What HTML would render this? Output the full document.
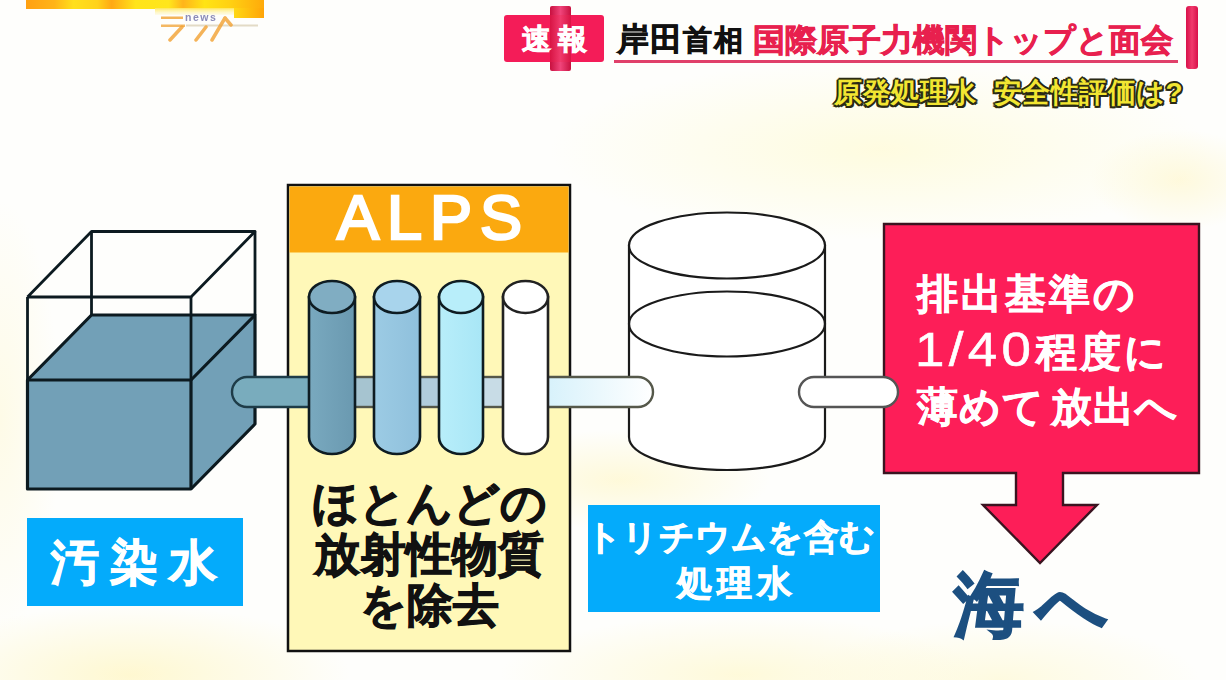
<!DOCTYPE html>
<html><head><meta charset="utf-8">
<style>
*{margin:0;padding:0;box-sizing:border-box}
html,body{width:1226px;height:680px;overflow:hidden}
body{position:relative;font-family:"Liberation Sans",sans-serif;font-weight:bold;
background:
radial-gradient(ellipse 330px 90px at 880px 150px, rgba(255,250,200,0.55), rgba(255,250,200,0) 100%),
radial-gradient(ellipse 90px 50px at 1180px 180px, rgba(255,246,200,0.6), rgba(255,246,200,0) 100%),
radial-gradient(ellipse 220px 70px at 130px 675px, rgba(255,244,180,0.6), rgba(255,244,180,0) 100%),
radial-gradient(ellipse 240px 60px at 740px 675px, rgba(255,246,190,0.55), rgba(255,246,190,0) 100%),
radial-gradient(ellipse 200px 60px at 1000px 680px, rgba(255,246,190,0.45), rgba(255,246,190,0) 100%),
radial-gradient(ellipse 150px 50px at 620px 480px, rgba(255,246,195,0.6), rgba(255,246,195,0) 100%),
radial-gradient(ellipse 60px 220px at 0px 420px, rgba(255,248,210,0.5), rgba(255,248,210,0) 100%),
#fefefc;}
.a{position:absolute;white-space:nowrap}
.sub{text-shadow:2px 0 0 #2a2a14,-2px 0 0 #2a2a14,0 2px 0 #2a2a14,0 -2px 0 #2a2a14,1.5px 1.5px 0 #2a2a14,-1.5px 1.5px 0 #2a2a14,1.5px -1.5px 0 #2a2a14,-1.5px -1.5px 0 #2a2a14}
svg{position:absolute;left:0;top:0}
</style></head><body>

<!-- logo -->
<svg width="300" height="50" viewBox="0 0 300 50" style="position:absolute;left:0;top:0;filter:blur(0.6px)">
 <defs>
  <linearGradient id="lg" x1="0" x2="1">
   <stop offset="0" stop-color="#ffa012"/><stop offset="0.12" stop-color="#ffb418"/>
   <stop offset="0.2" stop-color="#ffe01c"/><stop offset="0.3" stop-color="#ffd21a"/>
   <stop offset="0.36" stop-color="#ffa814"/><stop offset="0.46" stop-color="#ffe41a"/>
   <stop offset="0.6" stop-color="#ffe61c"/><stop offset="0.66" stop-color="#ffb41a"/>
   <stop offset="0.75" stop-color="#ffe414"/><stop offset="0.86" stop-color="#ffd012"/>
   <stop offset="1" stop-color="#ffaa0a"/>
  </linearGradient>
  <linearGradient id="lg2" x1="0" x2="1"><stop offset="0" stop-color="#ffd814"/><stop offset="1" stop-color="#ffa408"/></linearGradient>
  <linearGradient id="lg3" x1="0" y1="0" x2="0" y2="1"><stop offset="0" stop-color="#ffe860"/><stop offset="1" stop-color="#fff6c0" stop-opacity="0.3"/></linearGradient>
 </defs>
 <rect x="26" y="0" width="238" height="9" fill="url(#lg)"/>
 <rect x="155" y="8" width="80" height="7" fill="url(#lg3)"/>
 <rect x="234" y="8" width="30" height="10" fill="url(#lg2)"/>
 <rect x="161" y="16.5" width="22" height="2.5" fill="#f0a030" opacity="0.8"/>
 <text x="185" y="21" font-family="Liberation Sans" font-size="10.5" fill="#8c8cb8" letter-spacing="1.5">news</text>
 <rect x="161" y="24.5" width="24" height="2.5" fill="#f0a030" opacity="0.75"/>
 <rect x="186" y="24.5" width="72" height="2" fill="#c8b890" opacity="0.5"/>
 <g stroke="#f2a030" stroke-width="3.5" stroke-linecap="round" opacity="0.8">
  <line x1="182" y1="27" x2="170" y2="40"/>
  <line x1="206" y1="27" x2="196" y2="40"/>
  <line x1="225" y1="18" x2="212" y2="40"/>
  <line x1="225" y1="18" x2="231" y2="25"/>
 </g>
</svg>
<!-- header -->
<div class="a" style="left:550px;top:6px;width:21px;height:65px;background:linear-gradient(90deg,#c8103f,#f0447a 50%,#c8103f);border-radius:2px"></div>
<div class="a" style="left:504px;top:15px;width:100px;height:47px;background:#f41c58;border-radius:3px"></div>
<div class="a" style="left:550px;top:15px;width:21px;height:47px;background:linear-gradient(90deg,#d81444,#f03a6c 50%,#d81444)"></div>
<div class="a" style="left:522px;top:21px;font-size:29px;line-height:36px;color:#fff;letter-spacing:7px;-webkit-text-stroke:0.8px #fff">速報</div>

<div class="a" style="left:617px;top:20px;font-size:32px;line-height:38px;color:#111;letter-spacing:1px;-webkit-text-stroke:0.8px #111">岸田<span style="font-size:29px;letter-spacing:2px">首相</span></div>
<div class="a" style="left:753px;top:21px;font-size:32px;line-height:38px;color:#e8204e;-webkit-text-stroke:0.8px #e8204e">国際原子力機関トップと面会</div>
<div class="a" style="left:614px;top:60px;width:564px;height:3px;background:#e0406a"></div>
<div class="a" style="left:1186px;top:6px;width:12px;height:63px;background:linear-gradient(90deg,#d8104a,#f03a6c,#d8104a);border-radius:3px"></div>

<div class="a sub" style="left:834px;top:76.5px;font-size:28px;line-height:32px;color:#f2e632;letter-spacing:0.5px">原発処理水<span style="margin-left:17px"></span>安全性評価は?</div>

<svg width="1226" height="680" viewBox="0 0 1226 680">
 <!-- cube -->
 <g stroke="#0c1a20" stroke-linejoin="round" fill="none">
  <polygon points="27.5,380 91.5,315 255,315 255,424 191,489 27.5,489" fill="#72a0b7" stroke="none"/>
  <polyline points="27.5,297 91.5,231.5 255,231.5 191,297 27.5,297" stroke-width="2.8"/>
  <line x1="91.5" y1="231.5" x2="91.5" y2="315" stroke-width="2.8"/>
  <line x1="27.5" y1="297" x2="27.5" y2="380" stroke-width="2.8"/>
  <line x1="191" y1="297" x2="191" y2="380" stroke-width="2.8"/>
  <line x1="255" y1="231.5" x2="255" y2="315" stroke-width="2.8"/>
  <polygon points="27.5,380 91.5,315 255,315 255,424 191,489 27.5,489" stroke-width="3.2"/>
  <polyline points="27.5,380 191,380 255,315" stroke-width="3.2"/>
  <line x1="191" y1="380" x2="191" y2="489" stroke-width="3.2"/>
 </g>
 <!-- ALPS box -->
 <rect x="288" y="185" width="282" height="466" fill="#fff8b8" stroke="#111" stroke-width="2.5"/>
 <rect x="289.5" y="186.5" width="279" height="66" fill="#fba90f"/>
 <!-- pipe -->
 <g stroke="#2a3c40" stroke-width="2.4">
  <rect x="232" y="377" width="110" height="30" rx="15" fill="#79acbd" stroke="#1e3c48"/>
  <rect x="340" y="377" width="40" height="30" fill="#a6c4d0" stroke="#55584a"/>
  <rect x="405" y="377" width="40" height="30" fill="#b0ccdc" stroke="#55584a"/>
  <rect x="470" y="377" width="40" height="30" fill="#c8dce6" stroke="#55584a"/>
 </g>
 <defs>
  <linearGradient id="pg" x1="0" x2="1"><stop offset="0" stop-color="#cdeefa"/><stop offset="1" stop-color="#ffffff"/></linearGradient>
  <linearGradient id="c1" x1="0" x2="1"><stop offset="0" stop-color="#79a9bf"/><stop offset="1" stop-color="#6a99b0"/></linearGradient>
  <linearGradient id="c2" x1="0" x2="1"><stop offset="0" stop-color="#9ccbe4"/><stop offset="1" stop-color="#8fc0dc"/></linearGradient>
  <linearGradient id="c3" x1="0" x2="1"><stop offset="0" stop-color="#b8eefa"/><stop offset="1" stop-color="#a8e6f6"/></linearGradient>
 </defs>
 <!-- tank -->
 <g stroke="#1a1a1a" stroke-width="2.2" fill="#fff">
  <path d="M629,245.5 L629,437 A98,33 0 0 0 825,437 L825,245.5 Z"/>
  <ellipse cx="727" cy="245.5" rx="98" ry="33"/>
  <ellipse cx="727" cy="324" rx="98" ry="32.5" fill="none"/>
 </g>
 <rect x="520" y="377" width="133" height="30" rx="15" fill="url(#pg)" stroke="#55584a" stroke-width="2.4"/>
 <!-- cylinders -->
 <g stroke="#0e1c22" stroke-width="2.6">
  <path d="M309,297 L309,437 A23,17 0 0 0 355,437 L355,297 Z" fill="url(#c1)"/>
  <ellipse cx="332" cy="297" rx="23" ry="16" fill="#80adc2"/>
  <path d="M374,297 L374,437 A23,17 0 0 0 420,437 L420,297 Z" fill="url(#c2)"/>
  <ellipse cx="397" cy="297" rx="23" ry="16" fill="#a8d4ec"/>
  <path d="M439,297 L439,437 A22,17 0 0 0 483,437 L483,297 Z" fill="url(#c3)"/>
  <ellipse cx="461" cy="297" rx="22" ry="16" fill="#b8eefa"/>
  <path d="M503,297 L503,437 A22.5,17 0 0 0 548,437 L548,297 Z" fill="#fff" stroke="#222"/>
  <ellipse cx="525.5" cy="297" rx="22.5" ry="16" fill="#fff" stroke="#222"/>
 </g>
 <!-- red box with arrow -->
 <path d="M884,224 L1199,224 L1199,473 L1063,473 L1063,505 L1097,505 L1040,563 L983,505 L1016,505 L1016,473 L884,473 Z" fill="#fd1e58" stroke="#3a1420" stroke-width="2.4" stroke-linejoin="miter"/>
 <rect x="799" y="377" width="99" height="30" rx="15" fill="#fff" stroke="#555" stroke-width="2.4"/>
 <!-- labels -->
 <rect x="27" y="518" width="216" height="88" fill="#04abfb"/>
 <rect x="588" y="505" width="292" height="107" fill="#04abfb"/>
</svg>

<div class="a" style="left:337px;top:185px;font-size:63px;line-height:64px;color:#fff;letter-spacing:8px;font-weight:normal;-webkit-text-stroke:2.6px #fff">ALPS</div>

<div class="a" style="left:51px;top:536px;font-size:48px;line-height:54px;color:#fff;letter-spacing:11px;-webkit-text-stroke:1px #fff">汚染水</div>

<div class="a" style="left:288px;top:478px;width:282px;text-align:center;font-size:46px;line-height:51px;color:#111;-webkit-text-stroke:1px #111">ほとんどの<br>放射性物質<br>を除去</div>

<div class="a" style="left:586px;top:514px;font-size:35px;line-height:46px;color:#fff;letter-spacing:0.3px;-webkit-text-stroke:0.8px #fff">トリチウムを含む<br><span style="margin-left:91px;letter-spacing:5px">処理水</span></div>

<div class="a" style="left:917px;top:267px;font-size:41px;line-height:55px;color:#fff;letter-spacing:3px;-webkit-text-stroke:0.6px #fff">排出基準の<br><span style="display:inline-block;font-size:48px;font-weight:normal;-webkit-text-stroke:0.6px #fff;transform:scaleX(1.1);transform-origin:0 0;margin-right:12px;letter-spacing:4px;margin-left:-2px">1/40</span>程度に<br><span style="letter-spacing:1px">薄めて<span style="margin-left:-6px"> </span>放出へ</span></div>

<div class="a" style="left:954px;top:565px;font-size:70px;line-height:80px;color:#1c4f80;letter-spacing:12px;-webkit-text-stroke:2px #1c4f80">海へ</div>

</body></html>
